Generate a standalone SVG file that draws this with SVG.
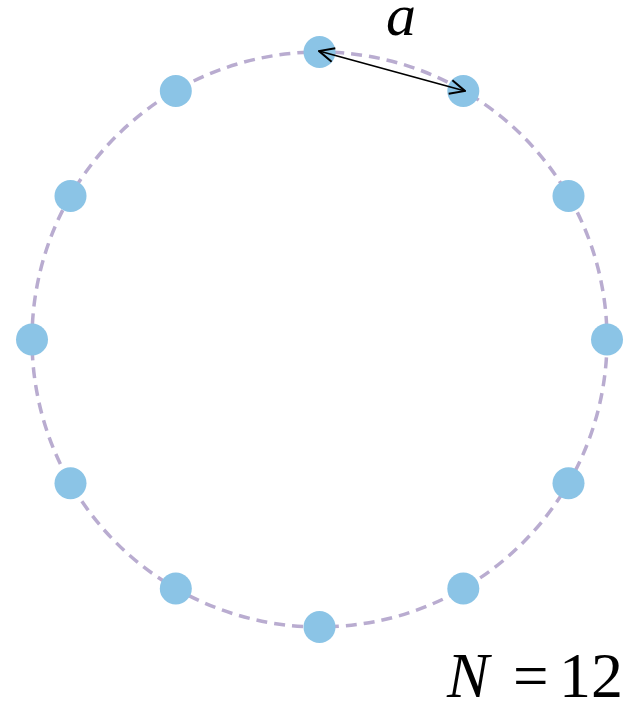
<svg xmlns="http://www.w3.org/2000/svg" width="631" height="703" viewBox="0 0 631 703">
<style>
.ring{fill:none;stroke:#B9ACD0;stroke-width:3.5;stroke-dasharray:11 7}
.node{fill:#8BC4E6}
.lbl{font-family:"Liberation Serif",serif;fill:#000}
.conn{stroke:#000;stroke-width:1.8;fill:none;marker-start:url(#ah);marker-end:url(#ah)}
</style>
<defs>
<marker id="ah" viewBox="0 0 18 18" refX="17" refY="9" markerWidth="18" markerHeight="18" markerUnits="userSpaceOnUse" orient="auto-start-reverse">
<path d="M2,2 L17,9 L2,16" fill="none" stroke="#000" stroke-width="2"/>
</marker>
</defs>
<rect width="631" height="703" fill="#fff"/>
<circle class="ring" cx="319.5" cy="339.5" r="287.5"/>
<g id="nodes">
<g id="n0"><circle class="node" cx="319.5" cy="52" r="16"/></g>
<g id="n1"><circle class="node" cx="463.3" cy="91" r="16"/></g>
<g id="n2"><circle class="node" cx="568.5" cy="196" r="16"/></g>
<g id="n3"><circle class="node" cx="607" cy="339.5" r="16"/></g>
<g id="n4"><circle class="node" cx="568.5" cy="483.3" r="16"/></g>
<g id="n5"><circle class="node" cx="463.3" cy="588.5" r="16"/></g>
<g id="n6"><circle class="node" cx="319.5" cy="627" r="16"/></g>
<g id="n7"><circle class="node" cx="175.8" cy="588.5" r="16"/></g>
<g id="n8"><circle class="node" cx="70.5" cy="483.3" r="16"/></g>
<g id="n9"><circle class="node" cx="32" cy="339.5" r="16"/></g>
<g id="n10"><circle class="node" cx="70.5" cy="196" r="16"/></g>
<g id="n11"><circle class="node" cx="175.8" cy="91" r="16"/></g>
</g>
<g id="connectors">
<line class="conn" x1="319" y1="51" x2="465" y2="91"/>
</g>
<text class="lbl" x="386" y="35" font-size="60" font-style="italic">a</text>
<text class="lbl" x="447" y="697" font-size="63" font-style="italic">N</text>
<text class="lbl" x="513" y="697" font-size="63">=</text>
<text class="lbl" x="559" y="697" font-size="64">12</text>
</svg>
